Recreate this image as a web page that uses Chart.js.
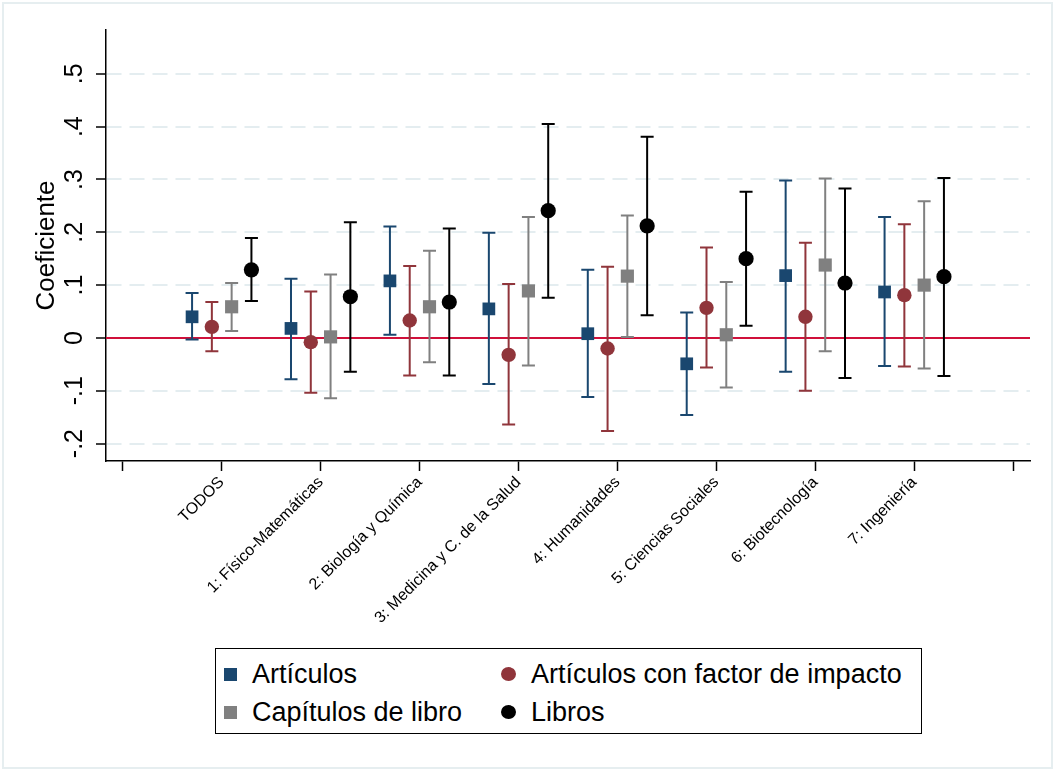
<!DOCTYPE html>
<html>
<head>
<meta charset="utf-8">
<title>Coeficientes por área</title>
<script src="https://cdn.jsdelivr.net/npm/chart.js@4.4.0/dist/chart.umd.min.js"></script>
<style>
  html, body { margin: 0; padding: 0; background: #fff; }
  #wrap { position: relative; width: 1055px; height: 771px; font-family: "Liberation Sans", Arial, Helvetica, sans-serif; }
  #frame { position: absolute; left: 2px; top: 2px; width: 1051px; height: 767px; box-sizing: border-box; border: 2px solid #e6eef0; pointer-events: none; }
  #legend { position: absolute; left: 215px; top: 648px; width: 707px; height: 86px; box-sizing: border-box; border: 1.5px solid #000; background: #fff; }
  .item { position: absolute; height: 38px; display: flex; align-items: center; font-size: 27px; color: #000; white-space: nowrap; }
  .mark { flex: none; margin-right: 15px; }
</style>
</head>
<body>
<div id="wrap">
  <canvas id="myChart" width="1055" height="771"></canvas>
  <div id="legend"></div>
  <div id="frame"></div>
</div>
<script>
// categorias del eje x
const categories = ["TODOS", "1: Físico-Matemáticas", "2: Biología y Química", "3: Medicina y C. de la Salud",
  "4: Humanidades", "5: Ciencias Sociales", "6: Biotecnología", "7: Ingeniería"];

// coeficientes e intervalos
const articulos    = [0.040, 0.018, 0.108, 0.055, 0.008, -0.049, 0.118, 0.087];
const articulosLo  = [-0.003, -0.078, 0.006, -0.087, -0.112, -0.146, -0.064, -0.053];
const articulosHi  = [0.085, 0.112, 0.211, 0.199, 0.129, 0.048, 0.298, 0.229];

const impacto      = [0.021, -0.008, 0.033, -0.032, -0.020, 0.057, 0.040, 0.081];
const impactoLo    = [-0.025, -0.104, -0.071, -0.164, -0.176, -0.056, -0.100, -0.054];
const impactoHi    = [0.068, 0.088, 0.136, 0.102, 0.135, 0.171, 0.180, 0.215];

const capitulos    = [0.059, 0.002, 0.059, 0.089, 0.117, 0.006, 0.138, 0.100];
const capitulosLo  = [0.013, -0.114, -0.046, -0.052, 0.002, -0.094, -0.025, -0.058];
const capitulosHi  = [0.104, 0.120, 0.165, 0.229, 0.232, 0.106, 0.302, 0.259];

const libros       = [0.129, 0.078, 0.068, 0.241, 0.212, 0.150, 0.104, 0.116];
const librosLo     = [0.070, -0.064, -0.071, 0.076, 0.043, 0.023, -0.076, -0.072];
const librosHi     = [0.189, 0.219, 0.207, 0.405, 0.381, 0.277, 0.283, 0.303];

const offsets = [-0.3, -0.1, 0.1, 0.3];
const yTicks = [-0.2, -0.1, 0, 0.1, 0.2, 0.3, 0.4, 0.5];
const xTicks = [0, 1, 2, 3, 4, 5, 6, 7, 8, 9];

const font = "'Liberation Sans', Arial, Helvetica, sans-serif";

const makePoints = function (est, lo, hi, k) {
  return est.map((v, i) => ({ x: i + 1 + offsets[k], y: v, lo: lo[i], hi: hi[i] }));
};

const series = [
  { label: "Artículos", color: "#1a476f", style: "rect", radius: 9, pts: makePoints(articulos, articulosLo, articulosHi, 0) },
  { label: "Artículos con factor de impacto", color: "#90353b", style: "circle", radius: 7.2, pts: makePoints(impacto, impactoLo, impactoHi, 1) },
  { label: "Capítulos de libro", color: "#808080", style: "rect", radius: 9.3, pts: makePoints(capitulos, capitulosLo, capitulosHi, 2) },
  { label: "Libros", color: "#000000", style: "circle", radius: 7.6, pts: makePoints(libros, librosLo, librosHi, 3) },
];

const data = {
  datasets: series.map((s) => ({
    label: s.label,
    data: s.pts,
    pointStyle: s.style,
    pointRadius: s.radius,
    backgroundColor: s.color,
    borderColor: s.color,
    borderWidth: 0,
    showLine: false,
  })),
};

// linea roja en cero + barras de error
const errorBars = {
  id: "errorBars",
  beforeDatasetsDraw(chart) {
    const { ctx, chartArea, scales } = chart;
    const y0 = scales.y.getPixelForValue(0);
    ctx.save();
    ctx.strokeStyle = "#d0103a";
    ctx.lineWidth = 2;
    ctx.beginPath();
    ctx.moveTo(chartArea.left, y0);
    ctx.lineTo(chartArea.right, y0);
    ctx.stroke();

    chart.data.datasets.forEach((ds) => {
      ctx.strokeStyle = ds.borderColor;
      ctx.lineWidth = 2;
      ds.data.forEach((p) => {
        const x = scales.x.getPixelForValue(p.x);
        const yl = scales.y.getPixelForValue(p.lo);
        const yh = scales.y.getPixelForValue(p.hi);
        ctx.beginPath();
        ctx.moveTo(x, yl);
        ctx.lineTo(x, yh);
        ctx.moveTo(x - 6.5, yl);
        ctx.lineTo(x + 6.5, yl);
        ctx.moveTo(x - 6.5, yh);
        ctx.lineTo(x + 6.5, yh);
        ctx.stroke();
      });
    });
    ctx.restore();
  },
};

const config = {
  type: "scatter",
  data,
  options: {
    responsive: false,
    animation: false,
    layout: { padding: { top: 30, right: 25, left: 0, bottom: 0 } },
    plugins: {
      legend: { display: false },
      tooltip: { enabled: false },
    },
    scales: {
      x: {
        type: "linear",
        min: -0.17,
        max: 9.17,
        afterBuildTicks: (scale) => { scale.ticks = xTicks.map((v) => ({ value: v })); },
        afterFit: (scale) => { scale.height = 310; },
        ticks: {
          autoSkip: false,
          minRotation: 45,
          maxRotation: 45,
          padding: 2,
          color: "#000",
          font: { family: font, size: 16 },
          callback: (v) => categories[v - 1] || "",
        },
        grid: { drawOnChartArea: false, tickLength: 10, tickColor: "#000", tickWidth: 1.5 },
        border: { color: "#000", width: 1.5 },
      },
      y: {
        type: "linear",
        min: -0.233,
        max: 0.583,
        afterBuildTicks: (scale) => { scale.ticks = yTicks.map((v) => ({ value: v })); },
        afterFit: (scale) => { scale.width = 106; },
        ticks: {
          minRotation: 90,
          maxRotation: 90,
          crossAlign: "center",
          padding: 6,
          color: "#000",
          font: { family: font, size: 25 },
          callback: (v) => {
            const r = Math.round(v * 10) / 10;
            if (r === 0) return "0";
            return r.toFixed(1).replace("0.", ".");
          },
        },
        grid: {
          color: (c) => (c.tick && Math.abs(c.tick.value) < 1e-9 ? "rgba(0,0,0,0)" : "#e4edf0"),
          lineWidth: 2,
          tickLength: 10,
          tickColor: "#000",
          tickWidth: 1.5,
        },
        border: { color: "#000", width: 1.5, dash: [15, 8] },
        title: {
          display: true,
          text: "Coeficiente",
          color: "#000",
          font: { family: font, size: 26 },
          padding: { top: 31, bottom: 0 },
        },
      },
    },
  },
  plugins: [errorBars],
};

let myChart = new Chart(document.getElementById("myChart"), config);

// leyenda en caja, dos columnas
const legendBox = document.getElementById("legend");
const colLeft = [8, 285];
const rowTop = [6, 44];
myChart.data.datasets.forEach((ds, i) => {
  const item = document.createElement("div");
  item.classList.add("item");
  item.style.left = colLeft[i % 2] + "px";
  item.style.top = rowTop[Math.floor(i / 2)] + "px";
  const mark = document.createElement("span");
  mark.classList.add("mark");
  const size = ds.pointStyle === "rect" ? 13 : 15;
  mark.style.width = size + "px";
  mark.style.height = (ds.pointStyle === "rect" ? 13 : 14) + "px";
  mark.style.background = ds.backgroundColor;
  if (ds.pointStyle === "circle") mark.style.borderRadius = "50%";
  const txt = document.createElement("span");
  txt.textContent = ds.label;
  item.appendChild(mark);
  item.appendChild(txt);
  legendBox.appendChild(item);
});
</script>
</body>
</html>
